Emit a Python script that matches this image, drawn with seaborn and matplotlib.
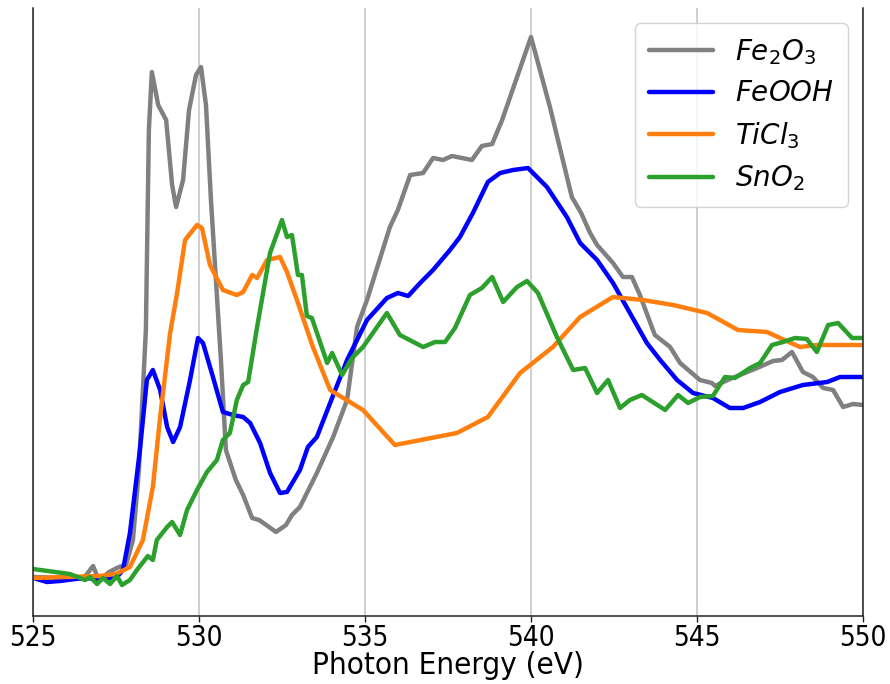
import matplotlib
matplotlib.use("Agg")
import matplotlib.pyplot as plt
from matplotlib import font_manager
import seaborn as sns
import pandas as pd

# ---------------- data (photon energy in eV, intensity in arb. units) ----------------
fe2o3_E = [525.00, 525.99, 526.51, 526.81, 526.99, 527.29, 527.59, 527.80, 528.01, 528.19,
           528.40, 528.49, 528.58, 528.77, 529.01, 529.19, 529.31, 529.52, 529.70, 529.91,
           530.06, 530.21, 530.36, 530.66, 530.81, 531.11, 531.33, 531.60, 531.81, 532.11,
           532.32, 532.62, 532.80, 533.04, 533.55, 534.04, 534.46, 534.76, 535.06, 535.75,
           535.99, 536.36, 536.75, 537.05, 537.35, 537.62, 538.22, 538.52, 538.83, 539.13,
           540.00, 540.57, 541.23, 541.51, 541.78, 541.99, 542.47, 542.77, 543.04, 543.28,
           543.73, 544.19, 544.49, 545.09, 545.45, 545.54, 545.99, 546.81, 547.29, 547.56,
           547.86, 548.19, 548.49, 548.80, 549.10, 549.40, 549.70, 550.00]
fe2o3_I = [0.39, 0.38, 0.37, 0.50, 0.35, 0.44, 0.49, 0.51, 0.76, 1.46,
           2.86, 4.86, 5.44, 5.11, 4.96, 4.31, 4.09, 4.36, 5.06, 5.41,
           5.49, 5.11, 4.16, 2.56, 1.66, 1.36, 1.21, 0.98, 0.96, 0.89,
           0.84, 0.91, 1.01, 1.09, 1.43, 1.79, 2.16, 2.89, 3.16, 3.89,
           4.06, 4.41, 4.43, 4.58, 4.56, 4.60, 4.56, 4.70, 4.72, 4.96,
           5.79, 5.09, 4.19, 4.03, 3.83, 3.71, 3.53, 3.39, 3.39, 3.21,
           2.81, 2.69, 2.53, 2.36, 2.33, 2.30, 2.37, 2.48, 2.55, 2.56,
           2.64, 2.44, 2.39, 2.28, 2.26, 2.09, 2.12, 2.11]

feooh_E = [525.00, 525.42, 525.81, 526.51, 526.99, 527.50, 527.71, 527.92, 528.22, 528.43,
           528.61, 528.83, 529.04, 529.22, 529.43, 529.73, 529.97, 530.12, 530.42, 530.72,
           531.02, 531.33, 531.54, 531.84, 532.14, 532.44, 532.65, 533.04, 533.28, 533.55,
           533.95, 534.46, 535.06, 535.66, 535.99, 536.30, 536.66, 537.05, 537.56, 537.86,
           538.25, 538.70, 539.07, 539.46, 539.91, 540.48, 541.08, 541.48, 541.99, 542.47,
           542.98, 543.49, 543.89, 544.40, 544.88, 545.48, 545.99, 546.39, 546.90, 547.50,
           548.19, 548.92, 549.31, 550.00]
feooh_I = [0.38, 0.34, 0.35, 0.38, 0.37, 0.38, 0.46, 0.83, 1.66, 2.36,
           2.46, 2.26, 1.89, 1.74, 1.89, 2.36, 2.78, 2.73, 2.39, 2.04,
           2.01, 1.99, 1.93, 1.73, 1.43, 1.23, 1.24, 1.46, 1.69, 1.79,
           2.13, 2.56, 2.96, 3.18, 3.23, 3.20, 3.33, 3.46, 3.66, 3.79,
           4.03, 4.34, 4.43, 4.46, 4.48, 4.29, 3.99, 3.73, 3.56, 3.33,
           3.03, 2.73, 2.56, 2.36, 2.23, 2.18, 2.08, 2.08, 2.14, 2.24,
           2.31, 2.34, 2.39, 2.39]

ticl3_E = [525.00, 525.99, 526.99, 527.50, 527.92, 528.31, 528.61, 528.83, 529.13, 529.34,
           529.58, 529.94, 530.09, 530.33, 530.72, 531.14, 531.33, 531.60, 531.75, 532.05,
           532.44, 532.65, 532.95, 533.43, 533.95, 534.94, 535.90, 537.77, 538.70, 539.67,
           540.66, 541.48, 542.47, 543.37, 544.28, 545.30, 545.69, 546.23, 547.11, 547.50,
           548.10, 548.61, 550.00]
ticl3_I = [0.38, 0.39, 0.40, 0.42, 0.49, 0.76, 1.29, 1.99, 2.83, 3.23,
           3.76, 3.91, 3.88, 3.51, 3.26, 3.21, 3.24, 3.41, 3.38, 3.56,
           3.59, 3.44, 3.16, 2.69, 2.26, 2.06, 1.71, 1.83, 1.99, 2.43,
           2.69, 2.99, 3.19, 3.16, 3.11, 3.03, 2.96, 2.86, 2.84, 2.78,
           2.69, 2.71, 2.71]

sno2_E = [525.00, 526.11, 526.57, 526.72, 526.93, 527.11, 527.32, 527.53, 527.68, 527.92,
          528.13, 528.46, 528.61, 528.73, 529.04, 529.19, 529.43, 529.64, 529.94, 530.24,
          530.54, 530.72, 530.93, 531.14, 531.33, 531.48, 531.75, 532.14, 532.50, 532.65,
          532.80, 532.98, 533.10, 533.25, 533.40, 533.86, 534.01, 534.31, 534.61, 534.94,
          535.66, 536.05, 536.75, 537.11, 537.41, 537.71, 538.16, 538.52, 538.83, 539.16,
          539.58, 539.88, 540.21, 540.78, 541.27, 541.63, 541.99, 542.32, 542.68, 542.98,
          543.34, 544.04, 544.43, 544.73, 545.09, 545.48, 545.84, 546.14, 546.60, 546.90,
          547.26, 547.59, 547.95, 548.31, 548.61, 548.95, 549.25, 549.67, 550.00]
sno2_I = [0.47, 0.42, 0.36, 0.39, 0.32, 0.38, 0.32, 0.40, 0.31, 0.36,
          0.46, 0.60, 0.56, 0.76, 0.89, 0.94, 0.81, 1.06, 1.26, 1.44,
          1.56, 1.76, 1.83, 2.16, 2.31, 2.34, 2.89, 3.63, 3.96, 3.79,
          3.81, 3.41, 3.41, 3.00, 2.98, 2.53, 2.63, 2.41, 2.58, 2.69,
          3.03, 2.81, 2.69, 2.74, 2.74, 2.88, 3.21, 3.28, 3.39, 3.14,
          3.29, 3.35, 3.23, 2.79, 2.46, 2.48, 2.23, 2.36, 2.08, 2.16,
          2.21, 2.06, 2.21, 2.13, 2.19, 2.20, 2.39, 2.38, 2.48, 2.53,
          2.71, 2.74, 2.78, 2.77, 2.64, 2.91, 2.93, 2.78, 2.78]

labels = [r"$Fe_2O_3$", r"$FeOOH$", r"$TiCl_3$", r"$SnO_2$"]
colors = ["#808080", "#0000ff", "#ff7f0e", "#2ca02c"]
x_ticks = [525, 530, 535, 540, 545, 550]
x_label = "Photon Energy (eV)"

# ---------------- build long table ----------------
frames = []
for lab, E, I in zip(labels, [fe2o3_E, feooh_E, ticl3_E, sno2_E],
                     [fe2o3_I, feooh_I, ticl3_I, sno2_I]):
    frames.append(pd.DataFrame({"E": E, "I": I, "sample": lab}))
df = pd.concat(frames, ignore_index=True)

# ---------------- style ----------------
sns.set_style("white")
plt.rcParams["font.family"] = ["DejaVu Sans"]
plt.rcParams["mathtext.fontset"] = "dejavusans"
plt.rcParams["text.color"] = "black"
plt.rcParams["axes.labelcolor"] = "black"
plt.rcParams["xtick.color"] = "black"

has_condensed = any(f.name == "DejaVu Sans" and "condensed" in str(f.stretch).lower()
                    for f in font_manager.fontManager.ttflist)
if has_condensed:
    tick_kw = dict(fontsize=20, fontstretch="condensed")
    label_kw = dict(fontsize=22.5, fontstretch="condensed")
else:
    tick_kw = dict(fontsize=18)
    label_kw = dict(fontsize=21)

fig = plt.figure(figsize=(8.9, 6.84), dpi=100)
ax = fig.add_axes([33 / 890, 1 - 616 / 684, (863 - 33) / 890, (616 - 8) / 684])

sns.lineplot(data=df, x="E", y="I", hue="sample", hue_order=labels,
             palette=dict(zip(labels, colors)), estimator=None, sort=False,
             linewidth=3.2, ax=ax)

ax.set_xlim(525, 550)
ax.set_ylim(0, 6.08)
ax.set_xticks(x_ticks)
ax.set_xticklabels([str(t) for t in x_ticks], color="black", **tick_kw)
ax.set_yticks([])
ax.set_ylabel("")
ax.set_xlabel(x_label, color="black", labelpad=-0.5, **label_kw)
ax.tick_params(axis="x", direction="out", length=4, width=1, color="#222222",
               bottom=True, pad=1.5)

ax.grid(axis="x", color="#cccccc", linewidth=1.3)
ax.grid(axis="y", visible=False)
ax.set_axisbelow(True)

for s in ["left", "bottom", "right"]:
    ax.spines[s].set_visible(True)
    ax.spines[s].set_color("#222222")
    ax.spines[s].set_linewidth(1.1)
ax.spines["top"].set_visible(False)

handles, labs = ax.get_legend_handles_labels()
leg = ax.legend(handles, labs, loc="upper right", fontsize=20, frameon=True,
                handlelength=2.3, handletextpad=0.8, labelspacing=0.45,
                borderaxespad=0.55, borderpad=0.5, framealpha=0.85,
                edgecolor="#cccccc", fancybox=True)
for t in leg.get_texts():
    t.set_color("black")
for line in leg.get_lines():
    line.set_linewidth(3.2)

fig.savefig("out.png", dpi=100)
